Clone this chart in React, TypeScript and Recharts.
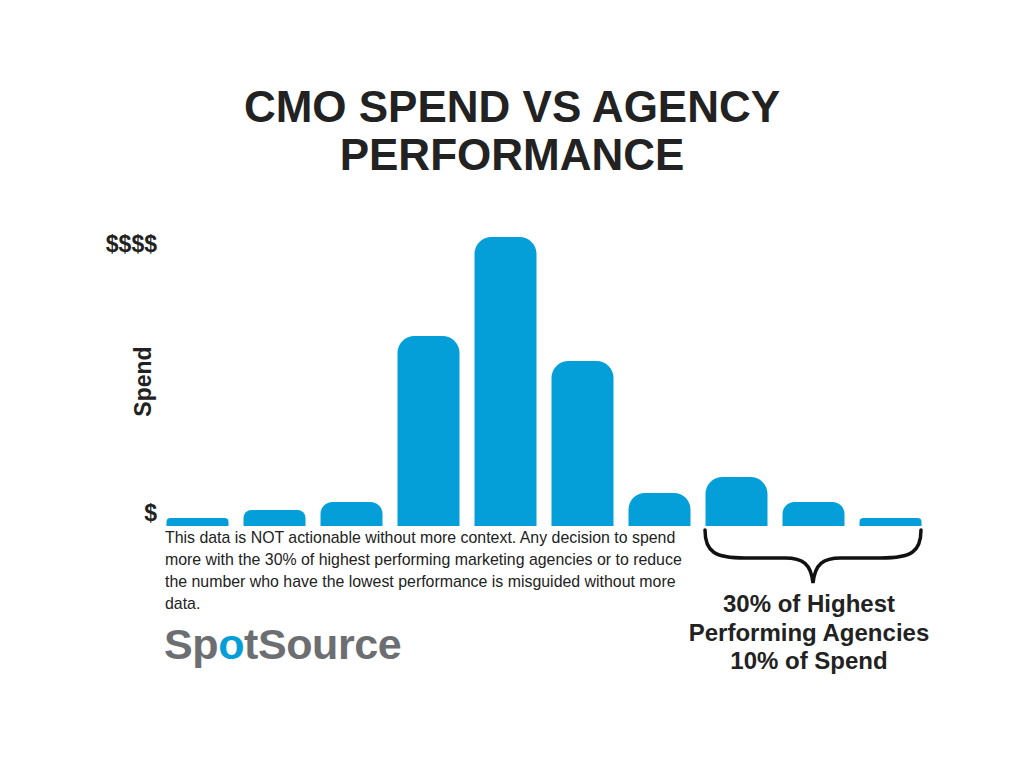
import React from "react";
import { BarChart, Bar, XAxis, YAxis, ReferenceArea, Label } from "recharts";

// agencies ordered from lowest to highest performance (deciles)
const agencies = ["10%", "20%", "30%", "40%", "50%", "60%", "70%", "80%", "90%", "100%"];
const spend = [8, 16, 24, 190, 289, 165, 33, 49, 24, 8];
const spendTicks = [13, 282];
const spendTickLabels = ["$", "$$$$"];
const topGroup = ["80%", "100%"];
const braceLines = ["30% of Highest", "Performing Agencies", "10% of Spend"];
const noteLines = [
  "This data is NOT actionable without more context. Any decision to spend",
  "more with the 30% of highest performing marketing agencies or to reduce",
  "the number who have the lowest performance is misguided without more",
  "data.",
];

const data = agencies.map((name, i) => ({ name, spend: spend[i] }));

const FONT = '"Liberation Sans", Arial, Helvetica, sans-serif';
const BLUE = "#049fd8";
const INK = "#222222";
const BAR_SIZE = 62;
const groupCount = agencies.indexOf(topGroup[1]) - agencies.indexOf(topGroup[0]) + 1;

const Brace = (props: any) => {
  const { x, y, width, height } = props;
  const inset = (width / groupCount - BAR_SIZE) / 2;
  const L = x + inset;
  const R = x + width - inset;
  const c = (L + R) / 2;
  const top = y + height + 4;
  const mid = top + 28;
  const tip = top + 53;
  const d = [
    `M ${L} ${top}`,
    `C ${L} ${mid - 6} ${L + 10} ${mid} ${L + 40} ${mid}`,
    `L ${c - 28} ${mid}`,
    `C ${c - 10} ${mid} ${c - 2} ${mid + 6} ${c} ${tip}`,
    `C ${c + 2} ${mid + 6} ${c + 10} ${mid} ${c + 28} ${mid}`,
    `L ${R - 40} ${mid}`,
    `C ${R - 10} ${mid} ${R} ${mid - 6} ${R} ${top}`,
  ].join(" ");
  return (
    <g>
      <path d={d} fill="none" stroke="#111" strokeWidth={3.5} strokeLinecap="round" />
      {braceLines.map((t, i) => (
        <text
          key={t}
          x={c - 4}
          y={tip + 29 + i * 28.5}
          textAnchor="middle"
          fontFamily={FONT}
          fontWeight="bold"
          fontSize={24}
          fill={INK}
        >
          {t}
        </text>
      ))}
    </g>
  );
};

export default function App() {
  return (
    <div
      style={{
        position: "absolute",
        left: 0,
        top: 0,
        width: 1024,
        height: 768,
        background: "#fff",
        fontFamily: FONT,
        color: INK,
      }}
    >
      <BarChart
        width={1024}
        height={768}
        data={data}
        margin={{ top: 237, right: 95.5, bottom: 242, left: 98.5 }}
      >
        <XAxis dataKey="name" hide />
        <YAxis
          width={60}
          domain={[0, 289]}
          ticks={spendTicks}
          tickFormatter={(v) => spendTickLabels[spendTicks.indexOf(v)]}
          axisLine={false}
          tickLine={false}
          tickSize={0}
          tickMargin={1.5}
          tick={{ fontSize: 23, fontWeight: "bold", fill: INK, fontFamily: FONT }}
        >
          <Label
            value="Spend"
            angle={-90}
            position="center"
            dx={14.5}
            style={{ fontSize: 23, fontWeight: "bold", fill: INK, fontFamily: FONT }}
          />
        </YAxis>
        <ReferenceArea
          x1={topGroup[0]}
          x2={topGroup[1]}
          fill="none"
          stroke="none"
          shape={(p: any) => <Brace {...p} />}
        />
        <Bar
          dataKey="spend"
          fill={BLUE}
          barSize={BAR_SIZE}
          radius={[17, 17, 0, 0]}
          isAnimationActive={false}
        />
      </BarChart>

      <div
        style={{
          position: "absolute",
          top: 82.7,
          left: 0,
          width: 1024,
          textAlign: "center",
          fontSize: 44,
          lineHeight: "48px",
          fontWeight: "bold",
        }}
      >
        CMO SPEND VS AGENCY
        <br />
        PERFORMANCE
      </div>

      <div
        style={{
          position: "absolute",
          top: 527,
          left: 165,
          fontSize: 15.9,
          lineHeight: "21.9px",
          whiteSpace: "nowrap",
        }}
      >
        {noteLines.map((t) => (
          <div key={t}>{t}</div>
        ))}
      </div>

      <div
        style={{
          position: "absolute",
          top: 620,
          left: 164,
          fontSize: 43,
          lineHeight: "48px",
          fontWeight: "bold",
          letterSpacing: -0.4,
          color: "#6d6e71",
        }}
      >
        Sp<span style={{ color: BLUE }}>o</span>tSource
      </div>
    </div>
  );
}
